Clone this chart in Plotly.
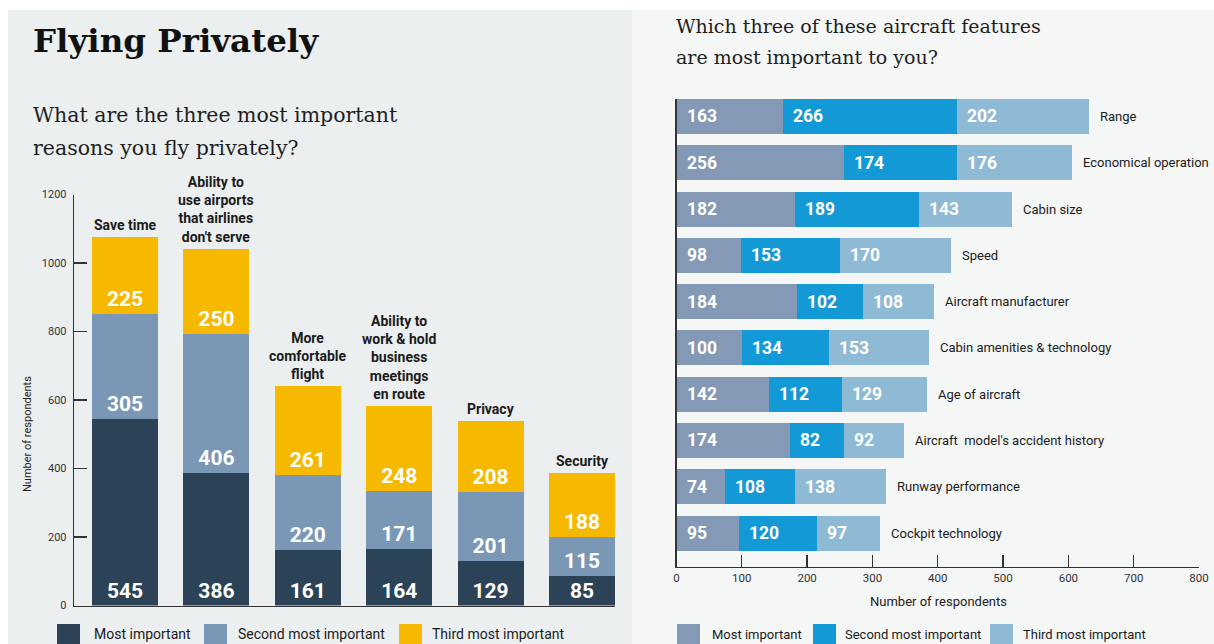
import plotly.graph_objects as go

# ---------------- data ----------------
reasons = ["Save time",
           "Ability to<br>use airports<br>that airlines<br>don't serve",
           "More<br>comfortable<br>flight",
           "Ability to<br>work & hold<br>business<br>meetings<br>en route",
           "Privacy",
           "Security"]
reason_most = [545, 386, 161, 164, 129, 85]
reason_second = [305, 406, 220, 171, 201, 115]
reason_third = [225, 250, 261, 248, 208, 188]

features = ["Range", "Economical operation", "Cabin size", "Speed",
            "Aircraft manufacturer", "Cabin amenities & technology",
            "Age of aircraft", "Aircraft  model's accident history",
            "Runway performance", "Cockpit technology"]
feat_most = [163, 256, 182, 98, 184, 100, 142, 174, 74, 95]
feat_second = [266, 174, 189, 153, 102, 134, 112, 82, 108, 120]
feat_third = [202, 176, 143, 170, 108, 153, 129, 92, 138, 97]

series_names = ["Most important", "Second most important", "Third most important"]
left_yticks = [0, 200, 400, 600, 800, 1000, 1200]
right_xticks = [0, 100, 200, 300, 400, 500, 600, 700, 800]

# ---------------- style ----------------
W, H = 1214, 644
SANS = "Roboto, Liberation Sans, Arial, sans-serif"
SERIF = "DejaVu Serif, Liberation Serif, serif"
left_colors = ["#2c4357", "#7b97b6", "#f6b900"]
right_colors = ["#8499b5", "#139ad6", "#8fbad5"]
TXT = "#1b1b1b"


def fx(X):
    return X / W


def fy(Y):
    return (H - Y) / H


fig = go.Figure()

# ---------- left: vertical stacked bars ----------
xpos = list(range(len(reasons)))
for vals, name, col in zip([reason_most, reason_second, reason_third], series_names, left_colors):
    fig.add_trace(go.Bar(
        x=xpos, y=vals, name=name, marker=dict(color=col, line=dict(width=0)),
        width=0.722, text=[str(v) for v in vals], textposition="inside",
        insidetextanchor="start", textangle=0, constraintext="none",
        textfont=dict(family=SANS, size=21, color="white", weight="bold"),
        xaxis="x", yaxis="y", showlegend=False, hoverinfo="skip"))

# ---------- right: horizontal stacked bars ----------
ypos = list(range(len(features)))
for vals, name, col in zip([feat_most, feat_second, feat_third], series_names, right_colors):
    fig.add_trace(go.Bar(
        y=ypos, x=vals, name=name, orientation="h",
        marker=dict(color=col, line=dict(width=0)), width=0.756,
        xaxis="x2", yaxis="y2", showlegend=False, hoverinfo="skip"))

annotations = []

# left category labels above bars
for i, lab in enumerate(reasons):
    total = reason_most[i] + reason_second[i] + reason_third[i]
    annotations.append(dict(x=i, y=total, xref="x", yref="y", text=lab,
                            showarrow=False, yanchor="bottom", yshift=2,
                            font=dict(family=SANS, size=14, color=TXT, weight="bold")))

# right value labels and category labels
for i, lab in enumerate(features):
    base = 0
    for vals in (feat_most, feat_second, feat_third):
        annotations.append(dict(x=base, y=i, xref="x2", yref="y2", text=str(vals[i]),
                                showarrow=False, xanchor="left", xshift=8,
                                font=dict(family=SANS, size=17.5, color="white", weight="bold")))
        base += vals[i]
    annotations.append(dict(x=base, y=i, xref="x2", yref="y2", text=lab,
                            showarrow=False, xanchor="left", xshift=9,
                            font=dict(family=SANS, size=13, color=TXT)))

# titles
annotations += [
    dict(x=fx(31), y=fy(40), xref="paper", yref="paper", text="<b>Flying Privately</b>",
         showarrow=False, xanchor="left", yanchor="middle",
         font=dict(family=SERIF, size=32.5, color="#111111")),
    dict(x=fx(31), y=fy(115), xref="paper", yref="paper", text="What are the three most important",
         showarrow=False, xanchor="left", yanchor="middle",
         font=dict(family=SERIF, size=20.5, color="#1e1e1e")),
    dict(x=fx(31), y=fy(148), xref="paper", yref="paper", text="reasons you fly privately?",
         showarrow=False, xanchor="left", yanchor="middle",
         font=dict(family=SERIF, size=20.5, color="#1e1e1e")),
    dict(x=fx(674), y=fy(26), xref="paper", yref="paper", text="Which three of these aircraft features",
         showarrow=False, xanchor="left", yanchor="middle",
         font=dict(family=SERIF, size=19, color="#1e1e1e")),
    dict(x=fx(674), y=fy(57), xref="paper", yref="paper", text="are most important to you?",
         showarrow=False, xanchor="left", yanchor="middle",
         font=dict(family=SERIF, size=19, color="#1e1e1e")),
    dict(x=fx(27), y=fy(434), xref="paper", yref="paper", text="Number of respondents",
         showarrow=False, textangle=-90, xanchor="center", yanchor="middle",
         font=dict(family=SANS, size=11, color="#222222")),
    dict(x=fx(938), y=fy(601), xref="paper", yref="paper", text="Number of respondents",
         showarrow=False, xanchor="center", yanchor="middle",
         font=dict(family=SANS, size=13, color="#222222")),
]

shapes = [
    dict(type="rect", xref="paper", yref="paper", x0=fx(8), x1=fx(632), y0=0, y1=fy(10),
         fillcolor="#eceff0", line=dict(width=0), layer="below"),
    dict(type="rect", xref="paper", yref="paper", x0=fx(632), x1=1, y0=0, y1=fy(10),
         fillcolor="#f5f6f6", line=dict(width=0), layer="below"),
]

# manual legends
left_leg = [(57, 92), (204, 236), (399, 430)]
right_leg = [(677, 710), (813, 843), (990, 1021)]
for (sx, tx), name, col in zip(left_leg, series_names, left_colors):
    shapes.append(dict(type="rect", xref="paper", yref="paper", x0=fx(sx), x1=fx(sx + 23),
                       y0=0, y1=fy(624), fillcolor=col, line=dict(width=0)))
    annotations.append(dict(x=fx(tx), y=fy(634), xref="paper", yref="paper", text=name,
                            showarrow=False, xanchor="left", yanchor="middle",
                            font=dict(family=SANS, size=14, color=TXT)))
for (sx, tx), name, col in zip(right_leg, series_names, right_colors):
    shapes.append(dict(type="rect", xref="paper", yref="paper", x0=fx(sx), x1=fx(sx + 23),
                       y0=0, y1=fy(624), fillcolor=col, line=dict(width=0)))
    annotations.append(dict(x=fx(tx), y=fy(634), xref="paper", yref="paper", text=name,
                            showarrow=False, xanchor="left", yanchor="middle",
                            font=dict(family=SANS, size=13, color=TXT)))

axis_line = dict(showline=True, linecolor="#333333", linewidth=1.3, showgrid=False,
                 zeroline=False, automargin=False, fixedrange=True)

fig.update_layout(
    width=W, height=H, margin=dict(l=0, r=0, t=0, b=0, autoexpand=False),
    paper_bgcolor="white", plot_bgcolor="rgba(0,0,0,0)",
    barmode="stack", bargap=0, showlegend=False,
    annotations=annotations, shapes=shapes,
    xaxis=dict(domain=[fx(74), fx(615)], range=[-0.558, 5.361], showticklabels=False,
               ticks="", anchor="y", **axis_line),
    yaxis=dict(domain=[fy(605.5), fy(194.5)], range=[0, 1200], tickvals=left_yticks,
               ticks="inside", ticklen=13, tickcolor="#333333", tickwidth=1.3,
               ticklabelstandoff=4, anchor="x",
               tickfont=dict(family=SANS, size=11, color="#333333"), **axis_line),
    xaxis2=dict(domain=[fx(676.5), fx(1199)], range=[0, 800], tickvals=right_xticks,
                ticks="inside", ticklen=12, tickcolor="#333333", tickwidth=1.3,
                anchor="y2", ticklabeloverflow="allow",
                tickfont=dict(family=SANS, size=11.5, color="#333333"), **axis_line),
    yaxis2=dict(domain=[fy(567), fy(99)], range=[9.734, -0.378], showticklabels=False,
                ticks="", anchor="x2", **axis_line),
)

POST = ("var gd=document.getElementById('{plot_id}');"
        "var r=document.documentElement;r.style.margin='0';r.style.padding='0';r.style.overflow='hidden';"
        "document.body.style.margin='0';document.body.style.padding='0';"
        "document.body.style.overflow='hidden';"
        "gd.style.position='fixed';gd.style.left='0px';gd.style.top='0px';")

fig.write_html("out.html", config={"displayModeBar": False, "staticPlot": True},
               post_script=POST)
